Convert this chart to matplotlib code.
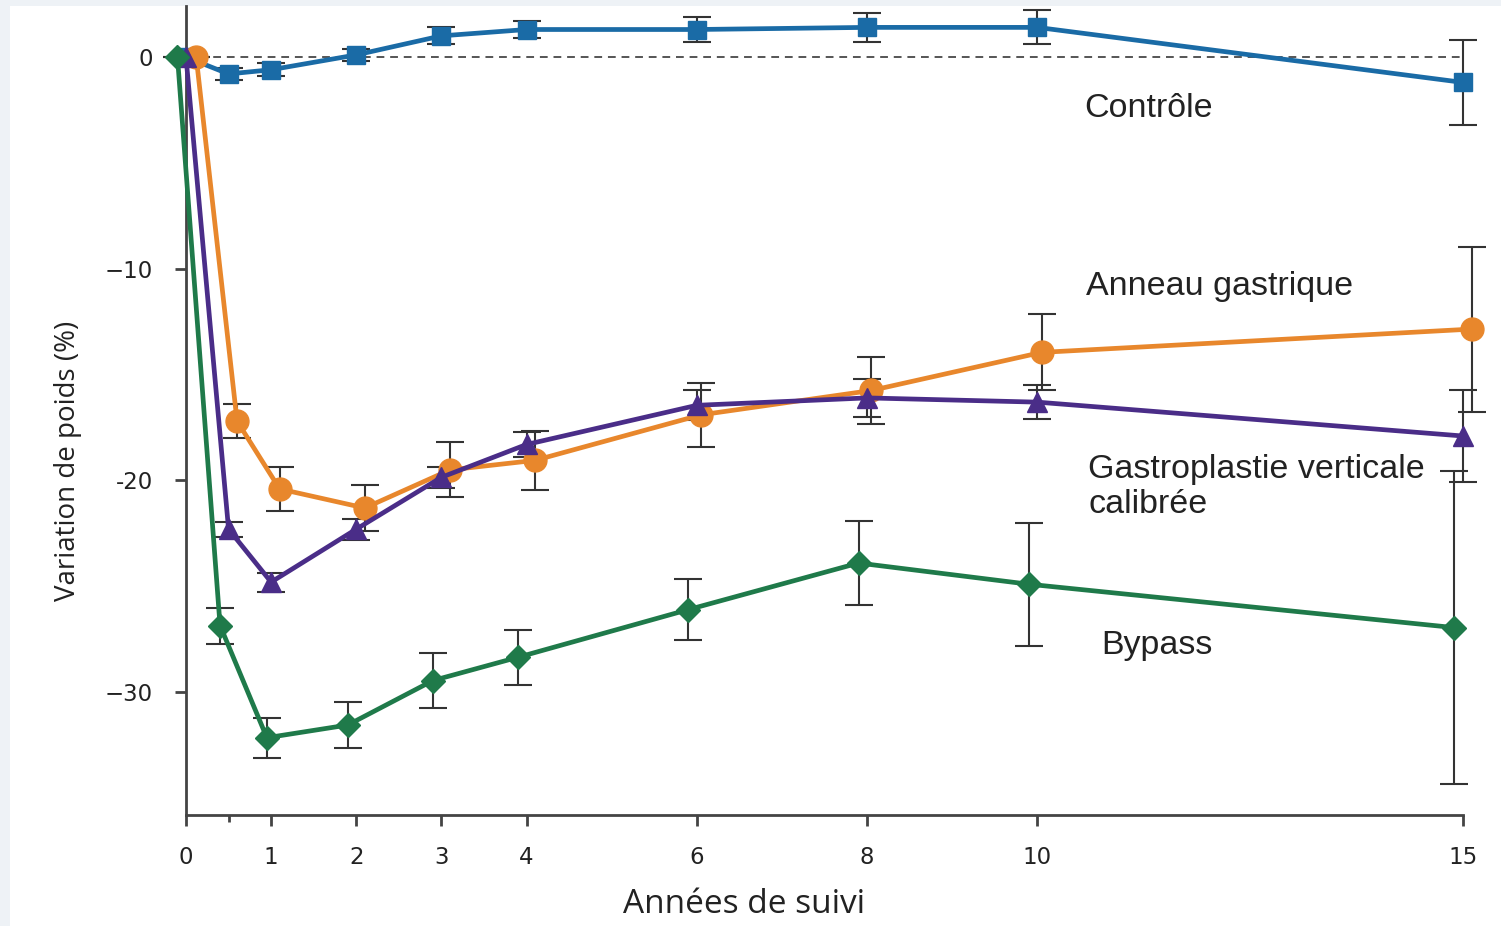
import matplotlib
matplotlib.use('Agg')
import matplotlib.pyplot as plt
from matplotlib.patches import Rectangle

# data (years of follow-up, % weight change, error half-width)
ctrl_x = [0, 0.5, 1, 2, 3, 4, 6, 8, 10, 15]
ctrl_y = [0, -0.8, -0.6, 0.1, 1.0, 1.3, 1.3, 1.4, 1.4, -1.2]
ctrl_err = [0, 0.3, 0.3, 0.3, 0.4, 0.4, 0.6, 0.7, 0.8, 2.0]

band_x = [0.12, 0.6, 1.1, 2.1, 3.1, 4.1, 6.05, 8.05, 10.05, 15.1]
band_y = [0, -17.2, -20.4, -21.3, -19.5, -19.05, -16.9, -15.75, -13.95, -12.85]
band_err = [0, 0.8, 1.05, 1.1, 1.3, 1.4, 1.5, 1.6, 1.8, 3.9]

vbg_x = [0, 0.5, 1, 2, 3, 4, 6, 8, 10, 15]
vbg_y = [0, -22.3, -24.8, -22.3, -19.85, -18.3, -16.45, -16.1, -16.3, -17.9]
vbg_err = [0, 0.35, 0.45, 0.5, 0.5, 0.6, 0.7, 0.9, 0.8, 2.15]

bypass_x = [-0.1, 0.4, 0.95, 1.9, 2.9, 3.9, 5.9, 7.9, 9.9, 14.9]
bypass_y = [0, -26.85, -32.15, -31.55, -29.45, -28.35, -26.1, -23.9, -24.9, -26.95]
bypass_err = [0, 0.85, 0.95, 1.1, 1.3, 1.3, 1.45, 2.0, 2.9, 7.4]

x_ticks = [0, 1, 2, 3, 4, 6, 8, 10, 15]
y_ticks = [0, -10, -20, -30]
y_ticklabels = ['0', '\u221210', '-20', '\u221230']

series = [
    (ctrl_x, ctrl_y, ctrl_err, '#1a6ba6', 's', 13),
    (band_x, band_y, band_err, '#e8872c', 'o', 16.5),
    (vbg_x, vbg_y, vbg_err, '#4a2d88', '^', 15),
    (bypass_x, bypass_y, bypass_err, '#1f7a4a', 'D', 12),
]

labels = [
    ('Contr\u00f4le', 10.55, -2.41),
    ('Anneau gastrique', 10.57, -10.83),
    ('Gastroplastie verticale\ncalibr\u00e9e', 10.6, -20.31),
    ('Bypass', 10.75, -27.8),
]

fig = plt.figure(figsize=(15.01, 9.26), dpi=100, facecolor='#eef2f6')
fig.patches.append(Rectangle((10 / 1501, 0), 1, 920 / 926, transform=fig.transFigure,
                             facecolor='white', edgecolor='none', zorder=-10))

ax = fig.add_axes([186 / 1501, 111 / 926, (1463 - 186) / 1501, (815 - 6) / 926])
ax.set_facecolor('none')
ax.set_zorder(5)

ax.axhline(0, color='#555555', linestyle=(0, (4, 3)), linewidth=1.4, zorder=1)

for xs, ys, errs, color, marker, ms in series:
    ax.errorbar(xs, ys, yerr=errs, fmt='none', ecolor='#333333', elinewidth=1.5,
                capsize=10, capthick=1.5, zorder=2, clip_on=False)
    ax.plot(xs, ys, color=color, linewidth=3.4, marker=marker, markersize=ms,
            zorder=3, clip_on=False)

for text, tx, ty in labels:
    ax.text(tx, ty, text, fontsize=24.5, family='Liberation Sans', color='#222222',
            va='center', ha='left', linespacing=1.18)

ax.set_xlim(0, 15)
ax.set_ylim(-35.8, 2.41)

ax.spines['top'].set_visible(False)
ax.spines['right'].set_visible(False)
for s in ['left', 'bottom']:
    ax.spines[s].set_color('#444444')
    ax.spines[s].set_linewidth(2)

ax.set_xticks(x_ticks)
ax.set_xticklabels([str(t) for t in x_ticks])
ax.set_xticks([0.5], minor=True)
ax.set_yticks(y_ticks)
ax.set_yticklabels(y_ticklabels)
ax.tick_params(axis='both', which='major', direction='out', length=8, width=2,
               color='#444444', labelsize=16.5, labelcolor='#222222')
ax.tick_params(axis='x', which='major', pad=14)
ax.tick_params(axis='y', which='major', pad=16)
ax.tick_params(axis='x', which='minor', direction='out', length=5, width=2, color='#444444')
for lab in ax.get_xticklabels() + ax.get_yticklabels():
    lab.set_family('DejaVu Sans')

ax.set_xlabel('Ann\u00e9es de suivi', fontsize=24, family='Open Sans', color='#222222')
ax.xaxis.set_label_coords(0.437, -0.111)
ax.set_ylabel('Variation de poids (%)', fontsize=20, family='Open Sans', color='#222222')
ax.yaxis.set_label_coords(-0.0924, 0.4376)
ax.xaxis.label.set_va('center')
ax.yaxis.label.set_va('center')

plt.savefig('out.png', dpi=100, facecolor=fig.get_facecolor())
